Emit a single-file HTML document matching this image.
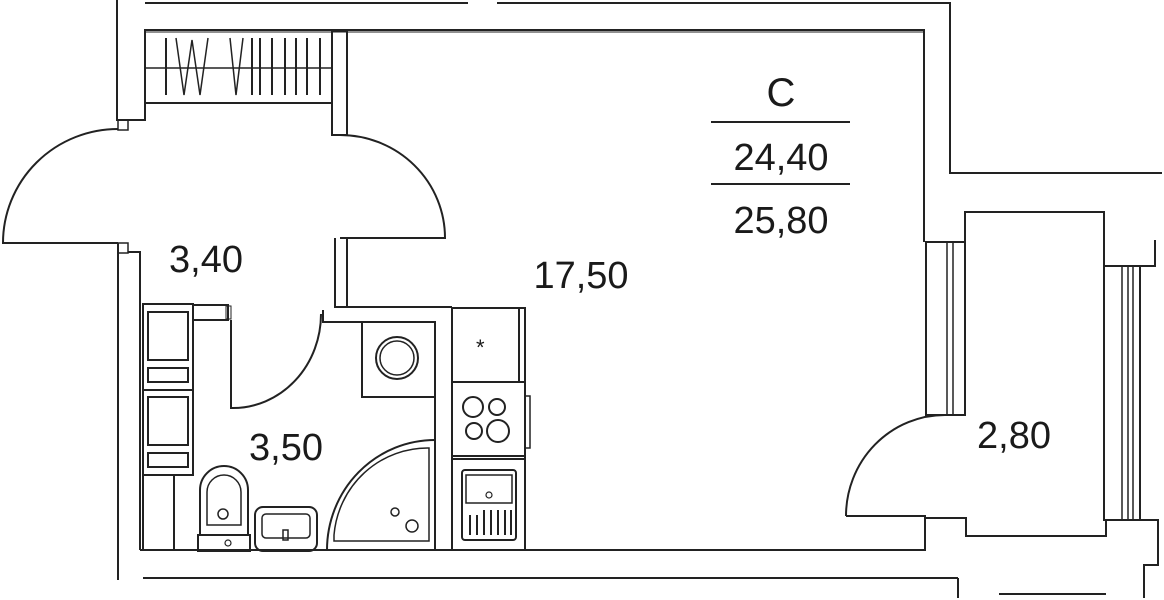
<!DOCTYPE html>
<html><head><meta charset="utf-8"><style>
html,body{margin:0;padding:0;background:#fff;}
svg{display:block}
text{font-family:"Liberation Sans",sans-serif;fill:#1a1a1a}
</style></head><body>
<svg width="1164" height="600" viewBox="0 0 1164 600" xmlns="http://www.w3.org/2000/svg">
<g fill="none" stroke="#222" stroke-width="2">
<line x1="145" y1="3" x2="468" y2="3"/>
<polyline points="497,3 950,3 950,173 1162,173"/>
<polyline points="117,0 117,120 145,120 145,30 924,30 924,242"/>
<line x1="145" y1="32" x2="924" y2="32" stroke-width="1"/>
<rect x="145" y="30" width="187" height="73"/>
<line x1="145" y1="68" x2="332" y2="68" stroke-width="1.5"/>
<g stroke-width="2">
<line x1="166" y1="38" x2="166" y2="95"/>
<polyline points="176,38 184,95 192,40 200,95 208,38" stroke-width="1.5"/>
<polyline points="230,38 236,95 243,38" stroke-width="1.5"/>
<line x1="252" y1="38" x2="252" y2="95"/>
<line x1="260" y1="38" x2="260" y2="95"/>
<line x1="272" y1="38" x2="272" y2="95"/>
<line x1="285" y1="38" x2="285" y2="95"/>
<line x1="296" y1="38" x2="296" y2="95"/>
<line x1="307" y1="38" x2="307" y2="95"/>
<line x1="320" y1="38" x2="320" y2="95"/>
</g>
<rect x="332" y="31" width="15" height="104"/>
<path d="M118,129 A115,114 0 0 0 3,243 L118,243"/>
<rect x="118" y="120" width="10" height="10" stroke-width="1.5"/>
<rect x="118" y="243" width="10" height="10" stroke-width="1.5"/>
<polyline points="128,252 140,252 140,305"/>
<line x1="118" y1="243" x2="118" y2="580"/>
<path d="M340,135 A105,103 0 0 1 445,238 L340,238"/>
<polyline points="335,238 335,307 452,307"/>
<line x1="347" y1="238" x2="347" y2="307"/>
<rect x="143" y="304" width="50" height="171"/>
<rect x="148" y="312" width="40" height="48"/>
<rect x="148" y="368" width="40" height="14"/>
<line x1="143" y1="390" x2="193" y2="390"/>
<rect x="148" y="397" width="40" height="48"/>
<rect x="148" y="453" width="40" height="14"/>
<rect x="143" y="475" width="31" height="75"/>
<line x1="140" y1="305" x2="140" y2="550"/>
<rect x="193" y="305" width="35" height="15"/>
<rect x="226" y="306" width="5" height="13" stroke-width="1"/>
<polyline points="231,320 231,408 233,408"/>
<path d="M233,408 A88,94 0 0 0 321,314"/>
<polyline points="323,310 323,322 435,322 435,550"/>
<line x1="452" y1="307" x2="452" y2="550"/>
<polyline points="362,322 362,397 435,397"/>
<circle cx="397" cy="358" r="21"/>
<circle cx="397" cy="358" r="17" stroke-width="1.5"/>
<path d="M327,550 A108,110 0 0 1 435,440"/>
<path d="M334,541 L334,535 A94,95 0 0 1 429,448 L429,541 Z" stroke-width="1.5"/>
<circle cx="395" cy="512" r="4" stroke-width="1.5"/>
<circle cx="412" cy="526" r="6" stroke-width="1.5"/>
<path d="M200,535 L200,490 A24,24 0 0 1 248,490 L248,535"/>
<path d="M207,525 L207,492 A17,17 0 0 1 241,492 L241,525 Z" stroke-width="1.5"/>
<circle cx="223" cy="514" r="5" stroke-width="1.5"/>
<rect x="198" y="535" width="52" height="16"/>
<circle cx="228" cy="543" r="3" stroke-width="1.2"/>
<rect x="255" y="507" width="62" height="44" rx="8"/>
<rect x="262" y="514" width="48" height="24" rx="4" stroke-width="1.5"/>
<rect x="283" y="530" width="5" height="10" stroke-width="1.5"/>
<rect x="452" y="308" width="73" height="242"/>
<line x1="452" y1="382" x2="525" y2="382"/>
<line x1="519" y1="308" x2="519" y2="382"/>
<line x1="452" y1="456" x2="525" y2="456"/>
<line x1="452" y1="459" x2="525" y2="459"/>
<rect x="525" y="396" width="5" height="52" stroke-width="1.5"/>
<circle cx="473" cy="407" r="10"/>
<circle cx="497" cy="407" r="8"/>
<circle cx="474" cy="431" r="8"/>
<circle cx="498" cy="431" r="11"/>
<rect x="462" y="470" width="54" height="70" rx="3"/>
<rect x="466" y="475" width="46" height="28" stroke-width="1.5"/>
<g stroke-width="2"><line x1="470" y1="515" x2="470" y2="535"/><line x1="477" y1="515" x2="477" y2="535"/><line x1="484" y1="510" x2="484" y2="535"/><line x1="491" y1="510" x2="491" y2="535"/><line x1="498" y1="510" x2="498" y2="535"/><line x1="505" y1="510" x2="505" y2="535"/><line x1="511" y1="510" x2="511" y2="535"/></g>
<circle cx="489" cy="495" r="3" stroke-width="1.2"/>
<line x1="140" y1="550" x2="925" y2="550"/>
<line x1="143" y1="578" x2="958" y2="578"/>
<line x1="958" y1="578" x2="958" y2="598"/>
<polyline points="846,516 925,516 925,551"/>
<rect x="926" y="242" width="39" height="173"/>
<line x1="947" y1="242" x2="947" y2="415" stroke-width="1.5"/>
<line x1="953" y1="242" x2="953" y2="415" stroke-width="1.5"/>
<path d="M945,415 A99,101 0 0 0 846,516"/>
<polyline points="925,518 966,518 966,536 1106,536 1106,520"/>
<polyline points="965,242 965,212 1104,212 1104,266 1155,266 1155,240"/>
<rect x="1104" y="266" width="36" height="254"/>
<line x1="1122" y1="266" x2="1122" y2="520" stroke-width="1.5"/>
<line x1="1128" y1="266" x2="1128" y2="520" stroke-width="1.5"/>
<line x1="1133" y1="266" x2="1133" y2="520" stroke-width="1.5"/>
<polyline points="1140,520 1158,520 1158,565 1144,565 1144,598"/>
<line x1="999" y1="594" x2="1106" y2="594"/>
<line x1="711" y1="122" x2="850" y2="122"/>
<line x1="711" y1="184" x2="850" y2="184"/>
</g>
<text x="476" y="355" font-size="22" fill="#222">*</text>
<text x="781" y="106" font-size="40" text-anchor="middle">С</text>
<text x="781" y="170" font-size="38" text-anchor="middle">24,40</text>
<text x="781" y="233" font-size="38" text-anchor="middle">25,80</text>
<text x="581" y="288" font-size="38" text-anchor="middle">17,50</text>
<text x="206" y="272" font-size="38" text-anchor="middle">3,40</text>
<text x="286" y="460" font-size="38" text-anchor="middle">3,50</text>
<text x="1014" y="448" font-size="38" text-anchor="middle">2,80</text>
</svg>
</body></html>
